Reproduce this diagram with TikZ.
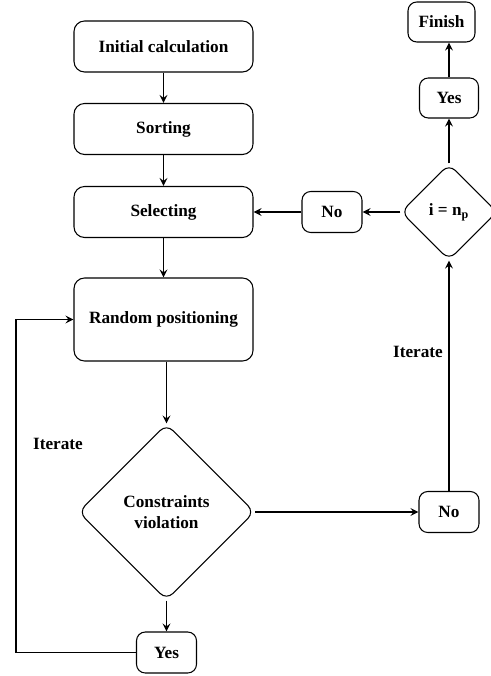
\documentclass[tikz,border=0pt]{standalone}
\usepackage{fontspec}
\setmainfont{Liberation Serif}
\usetikzlibrary{shapes.geometric}
\begin{document}
\begin{tikzpicture}
	\tikzstyle{step_box} = [rectangle, draw, semithick, rounded corners=6pt, minimum width=3.58cm, minimum height=1.02cm, align=center, font=\fontsize{9.8}{12}\selectfont\bfseries]
	\tikzstyle{answer} = [rectangle, draw, semithick, rounded corners=5pt, minimum width=1.2cm, minimum height=0.82cm, font=\fontsize{9.8}{12}\selectfont\bfseries]
	\tikzstyle{decision} = [diamond, draw, semithick, rounded corners=5pt, aspect=1, inner sep=0pt, align=center, font=\fontsize{9.8}{12}\selectfont\bfseries]
	\tikzstyle{label_text} = [font=\fontsize{9.8}{12}\selectfont\bfseries]
	\tikzstyle{edge} = [line width=1pt, ->, >=stealth]
	\def\colx{3.27}
	\def\rightx{8.98}

	\useasboundingbox (0,0) rectangle (9.8,-13.52);

	% main column
	\foreach \name/\y/\txt in {init/-0.93/Initial calculation, sort/-2.58/Sorting, select/-4.24/Selecting}
		\node[step_box] (\name) at (\colx, \y) {\txt};
	\node[step_box, minimum height=1.66cm] (random) at (\colx, -6.39) {Random positioning};

	\node[decision, minimum width=3.52cm, minimum height=3.52cm] (cons) at (3.33, -10.24) {Constraints\\violation};
	\node[answer] (yes1) at (3.33, -13.05) {Yes};

	\foreach \from/\to in {init/sort, sort/select, select/random}
		\draw[edge] (\from) -- (\to);
	\draw[edge] (random.south -| cons) -- (cons.north);
	\draw[edge] (cons) -- (yes1);

	% back to random positioning
	\coordinate (loop) at (0.32, -13.05);
	\draw[edge] (yes1.west) -- (loop) |- (random.west);
	\node[label_text] (iter_left) at (1.16, -8.88) {Iterate};

	% right column
	\node[answer] (no1) at (\rightx, -10.24) {No};
	\node[decision, minimum width=1.92cm, minimum height=1.92cm] (ieq) at (\rightx, -4.24) {i = n\textsubscript{p}};
	\node[answer] (no2) at (6.64, -4.24) {No};
	\node[answer, minimum width=1.18cm, minimum height=0.8cm] (yes2) at (\rightx, -1.96) {Yes};
	\node[answer, minimum width=1.34cm, minimum height=0.8cm] (finish) at (8.83, -0.44) {Finish};
	\node[label_text] (iter_right) at (8.36, -7.04) {Iterate};

	\foreach \from/\to in {cons/no1, no1/ieq, ieq/no2, no2/select, ieq/yes2}
		\draw[edge] (\from) -- (\to);
	\draw[edge] (yes2.north) -- (yes2.north |- finish.south);

\end{tikzpicture}
\end{document}
